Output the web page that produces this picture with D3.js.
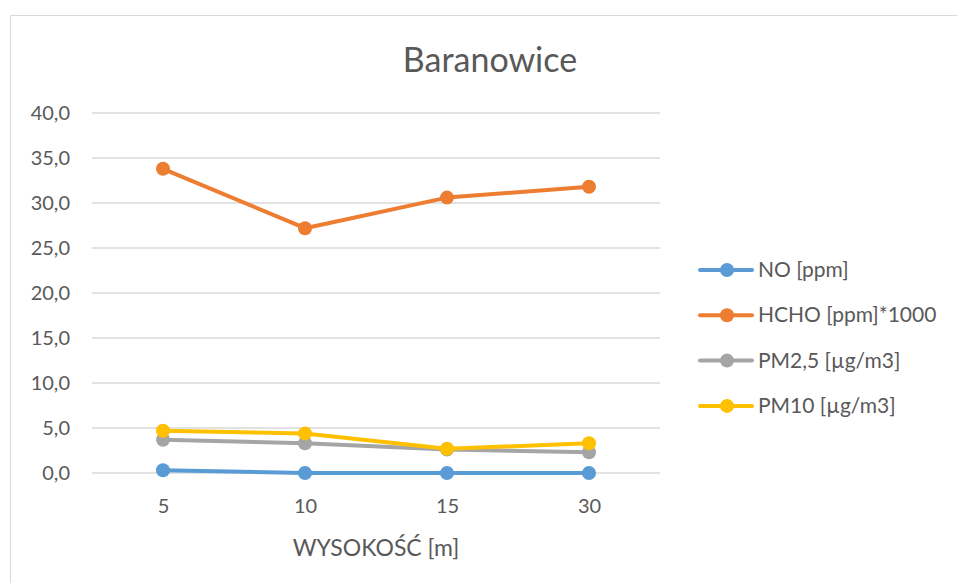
<!DOCTYPE html>
<html>
<head>
<meta charset="utf-8">
<script src="https://cdn.jsdelivr.net/npm/d3@7"></script>
<style>
  body { margin: 0; background: #fff; }
  text { font-family: Lato, "Open Sans", sans-serif; fill: #595959; }
</style>
</head>
<body>
<div id="chart"></div>
<script>
const heights = ["5", "10", "15", "30"];
const seriesNames = ["NO [ppm]", "HCHO [ppm]*1000", "PM2,5 [µg/m3]", "PM10 [µg/m3]"];
const seriesColors = ["#5B9BD5", "#ED7D31", "#A5A5A5", "#FFC000"];
const noValues = [0.3, 0.0, 0.0, 0.0];
const hchoValues = [33.8, 27.2, 30.6, 31.8];
const pm25Values = [3.7, 3.3, 2.6, 2.3];
const pm10Values = [4.7, 4.4, 2.7, 3.3];
const yTicks = [0, 5, 10, 15, 20, 25, 30, 35, 40];

const allValues = [noValues, hchoValues, pm25Values, pm10Values];

const width = 957, height = 583;

const svg = d3.select("#chart").append("svg")
    .attr("width", width)
    .attr("height", height);

// chart area border
svg.append("rect")
    .attr("x", 10.5).attr("y", 15.5)
    .attr("width", 960).attr("height", 600)
    .attr("fill", "#fff")
    .attr("stroke", "#d9d9d9");

const x = d3.scalePoint()
    .domain(heights)
    .range([92, 660])
    .padding(0.5);

const y = d3.scaleLinear()
    .domain([0, 40])
    .range([473, 113]);

// grid lines
svg.append("g")
    .selectAll("line")
    .data(yTicks)
    .enter()
    .append("line")
    .attr("x1", 92).attr("x2", 660)
    .attr("y1", d => y(d)).attr("y2", d => y(d))
    .attr("stroke", "#d9d9d9")
    .attr("stroke-width", 1.3);

// y axis
const yAxis = svg.append("g")
    .attr("transform", "translate(70,0)")
    .call(d3.axisLeft(y).tickValues(yTicks).tickSize(0).tickPadding(0)
        .tickFormat(d => d3.format(".1f")(d).replace(".", ",")));
yAxis.select(".domain").remove();
yAxis.selectAll("text")
    .attr("font-size", 20)
    .attr("fill", "#595959")
    .style("font-family", "Lato, 'Open Sans', sans-serif");

// x axis
const xAxis = svg.append("g")
    .attr("transform", "translate(0,499)")
    .call(d3.axisBottom(x).tickSize(0).tickPadding(0));
xAxis.select(".domain").remove();
xAxis.selectAll("text")
    .attr("font-size", 20)
    .attr("fill", "#595959")
    .style("font-family", "Lato, 'Open Sans', sans-serif");

// title
svg.append("text")
    .attr("x", 490).attr("y", 72)
    .attr("text-anchor", "middle")
    .attr("font-size", 34)
    .text("Baranowice");

// x axis title
svg.append("text")
    .attr("x", 376).attr("y", 556)
    .attr("text-anchor", "middle")
    .attr("font-size", 23)
    .text("WYSOKOŚĆ [m]");

const line = d3.line()
    .x((d, i) => x(heights[i]))
    .y(d => y(d));

const series = svg.append("g")
    .selectAll("g")
    .data(allValues)
    .enter()
    .append("g");

series.append("path")
    .attr("d", d => line(d))
    .attr("fill", "none")
    .attr("stroke", (d, i) => seriesColors[i])
    .attr("stroke-width", 4)
    .attr("stroke-linejoin", "round");

series.selectAll("circle")
    .data((d, i) => d.map(v => ({ v, c: seriesColors[i] })))
    .enter()
    .append("circle")
    .attr("cx", (d, i) => x(heights[i]))
    .attr("cy", d => y(d.v))
    .attr("r", 7)
    .attr("fill", d => d.c);

// legend
const legend = svg.append("g")
    .selectAll("g")
    .data(seriesNames)
    .enter()
    .append("g")
    .attr("transform", (d, i) => `translate(700,${270 + i * 45.3})`);

legend.append("line")
    .attr("x1", 0).attr("x2", 52)
    .attr("stroke", (d, i) => seriesColors[i])
    .attr("stroke-width", 4)
    .attr("stroke-linecap", "round");

legend.append("circle")
    .attr("cx", 27).attr("r", 7)
    .attr("fill", (d, i) => seriesColors[i]);

legend.append("text")
    .attr("x", 58).attr("y", 7)
    .attr("font-size", 21)
    .text(d => d);
</script>
</body>
</html>
